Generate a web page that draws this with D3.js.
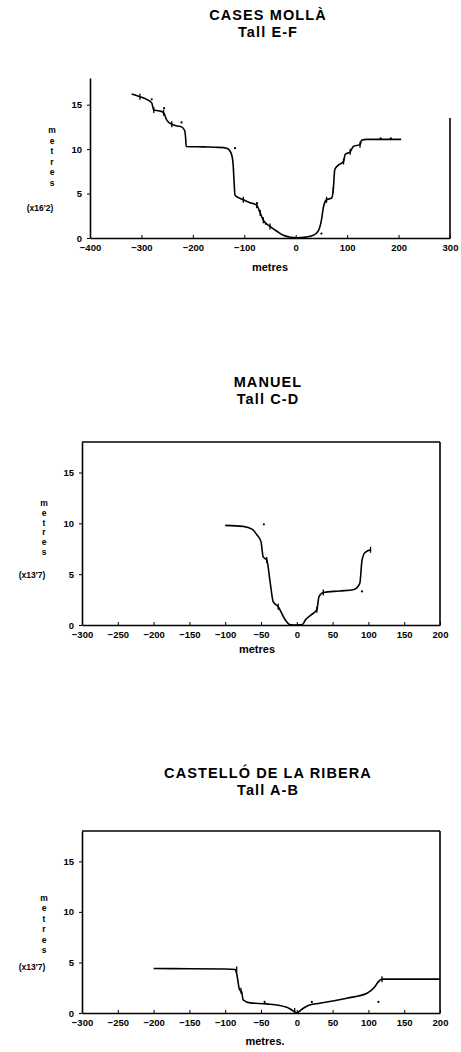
<!DOCTYPE html>
<html>
<head>
<meta charset="utf-8">
<script src="https://cdn.jsdelivr.net/npm/d3@7"></script>
<style>
  body { margin: 0; background: #fff; }
  svg { display: block; }
  text { font-family: "Liberation Sans", Arial, sans-serif; font-weight: bold; fill: #000; }
</style>
</head>
<body>
<script>
const titles = ['CASES MOLLÀ', 'MANUEL', 'CASTELLÓ DE LA RIBERA'];
const subtitles = ['Tall E-F', 'Tall C-D', 'Tall A-B'];
const scaleNotes = ["(x16'2)", "(x13'7)", "(x13'7)"];
const xLabels = ['metres', 'metres', 'metres.'];

const xTicksWide = [-400, -300, -200, -100, 0, 100, 200, 300];
const xTicksNarrow = [-300, -250, -200, -150, -100, -50, 0, 50, 100, 150, 200];
const yTicks = [0, 5, 10, 15];

const mollaProfile = [
  [-319, 16.2], [-303, 15.9], [-290, 15.6], [-280, 15.2], [-276, 14.4], [-265, 14.3], [-257, 14.1],
  [-251, 13.3], [-241, 12.8], [-230, 12.6], [-222, 12.5], [-216, 12.1], [-214, 11.2], [-213, 10.3],
  [-180, 10.25], [-150, 10.2], [-134, 10.1], [-126, 9.6], [-122, 8.5], [-120, 6.5], [-118, 4.8],
  [-110, 4.5], [-102, 4.3], [-90, 4.0], [-76, 3.7], [-69, 2.8], [-63, 2.0], [-50, 1.3],
  [-35, 0.7], [-24, 0.3], [-10, 0.08], [2, 0.03], [20, 0.1], [34, 0.3], [44, 0.8], [50, 2.0],
  [54, 3.5], [60, 4.3], [70, 4.5], [73, 5.4], [76, 7.7], [83, 8.2], [93, 8.6], [96, 9.4],
  [106, 9.7], [112, 10.3], [125, 10.5], [128, 11.0], [138, 11.1], [170, 11.1], [205, 11.1]
];
const mollaMarks = [[-303, 15.9], [-276, 14.4], [-257, 14.1], [-241, 12.8], [-102, 4.3], [-76, 3.7],
  [-69, 2.8], [-63, 2.0], [-50, 1.3], [60, 4.3], [73, 5.4], [93, 8.6], [106, 9.7], [125, 10.5]];
const mollaDots = [[-280, 15.6], [-256, 14.6], [-222, 13.0], [-118, 10.1], [-75, 3.9], [-58, 1.6], [50, 0.5], [165, 11.2], [185, 11.2]];

const manuelProfile = [
  [-100, 9.8], [-75, 9.7], [-62, 9.4], [-56, 8.9], [-50, 8.2], [-47, 6.7], [-42, 6.4],
  [-37, 4.1], [-33, 2.3], [-26, 1.8], [-16, 0.5], [-10, 0.05], [0, 0], [8, 0.05],
  [12, 0.5], [20, 1.0], [28, 1.5], [31, 2.8], [37, 3.2], [60, 3.35], [80, 3.5],
  [88, 4.1], [91, 6.3], [95, 7.1], [103, 7.4]
];
const manuelMarks = [[-42, 6.4], [-26, 1.8], [28, 1.5], [37, 3.2], [103, 7.4]];
const manuelDots = [[-46, 9.9], [91, 3.3]];

const castelloProfile = [
  [-200, 4.4], [-150, 4.38], [-100, 4.35], [-86, 4.3], [-84, 3.9], [-80, 2.3], [-77, 2.1],
  [-75, 1.3], [-65, 1.0], [-42, 0.9], [-14, 0.57], [-7, 0.3], [0, 0.03], [9, 0.47],
  [18, 0.8], [32, 0.96], [70, 1.46], [98, 1.95], [109, 2.6], [114, 3.1], [119, 3.35],
  [150, 3.35], [200, 3.35]
];
const castelloMarks = [[-84, 4.3], [-78, 2.2], [-3, 0.2], [119, 3.35]];
const castelloDots = [[-45, 1.1], [21, 1.1], [114, 1.1]];

const panels = [
  { top: 78, bottom: 238, left: 90, right: 450, xt: xTicksWide, profile: mollaProfile, marks: mollaMarks, dots: mollaDots,
    titleY: 20, labelX: 270, labelY: 271, yLetters: [130, 183], noteY: 211, box: false },
  { top: 442, bottom: 625, left: 82, right: 440, xt: xTicksNarrow, profile: manuelProfile, marks: manuelMarks, dots: manuelDots,
    titleY: 387, labelX: 257, labelY: 653, yLetters: [503, 552], noteY: 578, box: true },
  { top: 831, bottom: 1013, left: 82, right: 440, xt: xTicksNarrow, profile: castelloProfile, marks: castelloMarks, dots: castelloDots,
    titleY: 778, labelX: 265, labelY: 1045, yLetters: [898, 950], noteY: 970, box: true }
];

const svg = d3.select('body').append('svg')
  .attr('width', 461)
  .attr('height', 1052);

panels.forEach((p, i) => {
  const g = svg.append('g');
  const x = d3.scaleLinear().domain(d3.extent(p.xt)).range([p.left, p.right]);
  const y = d3.scaleLinear().domain([0, 18]).range([p.bottom, p.top]);

  // titles
  g.append('text')
    .attr('x', 268).attr('y', p.titleY)
    .attr('text-anchor', 'middle')
    .style('font-size', '14.5px').style('letter-spacing', '1.1px')
    .text(titles[i]);
  g.append('text')
    .attr('x', 268).attr('y', p.titleY + 17)
    .attr('text-anchor', 'middle')
    .style('font-size', '14.5px').style('letter-spacing', '1.1px')
    .text(subtitles[i]);

  // axes
  g.append('g')
    .attr('transform', `translate(0,${p.bottom})`)
    .call(d3.axisBottom(x).tickValues(p.xt).tickSize(-3).tickSizeOuter(0).tickPadding(6))
    .call(a => a.select('.domain').attr('stroke-width', 1.6))
    .call(a => a.selectAll('text').style('font-size', '9.5px').style('font-family', '"Liberation Sans", Arial, sans-serif').style('font-weight', 'bold'));
  g.append('g')
    .attr('transform', `translate(${p.left},0)`)
    .call(d3.axisLeft(y).tickValues(yTicks).tickSize(3).tickSizeOuter(0).tickPadding(5))
    .call(a => a.select('.domain').attr('stroke-width', 1.6))
    .call(a => a.selectAll('text').style('font-size', '9.5px').style('font-family', '"Liberation Sans", Arial, sans-serif').style('font-weight', 'bold'));

  // frame
  g.append('line')
    .attr('x1', p.right).attr('x2', p.right)
    .attr('y1', p.box ? p.top : p.top + 40).attr('y2', p.bottom)
    .attr('stroke', '#000').attr('stroke-width', 1.6);
  if (p.box) {
    g.append('line')
      .attr('x1', p.left).attr('x2', p.right)
      .attr('y1', p.top).attr('y2', p.top)
      .attr('stroke', '#000').attr('stroke-width', 1.6);
  }

  // axis titles
  g.append('text')
    .attr('x', p.labelX).attr('y', p.labelY)
    .attr('text-anchor', 'middle')
    .style('font-size', '11px')
    .text(xLabels[i]);
  const letters = 'metres'.split('');
  const ly = d3.scalePoint().domain(d3.range(letters.length)).range(p.yLetters);
  g.selectAll('.yl').data(letters).enter().append('text')
    .attr('x', p.left - 38)
    .attr('y', (d, k) => ly(k) + 3)
    .attr('text-anchor', 'middle')
    .style('font-size', '8.5px')
    .text(d => d);
  g.append('text')
    .attr('x', p.left - 50).attr('y', p.noteY)
    .attr('text-anchor', 'middle')
    .style('font-size', '8.5px')
    .text(scaleNotes[i]);

  // profile
  const line = d3.line()
    .x(d => x(d[0]))
    .y(d => y(d[1]))
    .curve(d3.curveMonotoneX);
  g.append('path')
    .datum(p.profile)
    .attr('d', line)
    .attr('fill', 'none')
    .attr('stroke', '#000')
    .attr('stroke-width', 1.6);

  g.selectAll('.mk').data(p.marks).enter().append('line')
    .attr('x1', d => x(d[0])).attr('x2', d => x(d[0]))
    .attr('y1', d => y(d[1]) - 3).attr('y2', d => y(d[1]) + 3)
    .attr('stroke', '#000').attr('stroke-width', 1.3);

  g.selectAll('.dt').data(p.dots).enter().append('circle')
    .attr('cx', d => x(d[0])).attr('cy', d => y(d[1]))
    .attr('r', 1.1)
    .attr('fill', '#000');
});
</script>
</body>
</html>
